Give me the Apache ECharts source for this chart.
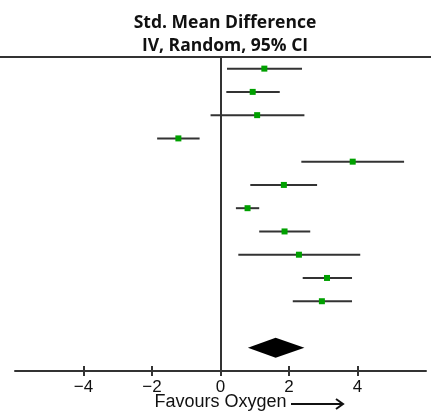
<!DOCTYPE html>
<html>
<head>
<meta charset="utf-8">
<script src="https://cdn.jsdelivr.net/npm/echarts@6/dist/echarts.min.js"></script>
<style>
  html, body { margin: 0; padding: 0; background: #fff; }
  #chart { width: 431px; height: 412px; }
</style>
</head>
<body>
<div id="chart"></div>
<script>
// forest plot, std. mean difference, IV random 95% CI
const rows = [1, 2, 3, 4, 5, 6, 7, 8, 9, 10, 11];
const smd = [1.28, 0.94, 1.07, -1.23, 3.86, 1.85, 0.79, 1.87, 2.29, 3.11, 2.96];
const lower = [0.19, 0.17, -0.29, -1.85, 2.36, 0.87, 0.45, 1.13, 0.52, 2.40, 2.11];
const upper = [2.38, 1.73, 2.45, -0.61, 5.36, 2.82, 1.13, 2.62, 4.08, 3.84, 3.84];
const pooledRow = 13;
const pooled = [1.61, 0.80, 2.45]; // estimate, lower, upper
const tickValues = [-4, -2, 0, 2, 4];

const chart = echarts.init(document.getElementById('chart'));
const ink = '#333';

const studyData = rows.map((r, i) => [smd[i], lower[i], upper[i], r]);

chart.setOption({
  animation: false,
  title: {
    text: 'Std. Mean Difference\nIV, Random, 95% CI',
    left: 220,
    top: 7,
    textAlign: 'center',
    textStyle: { fontFamily: 'Open Sans', fontWeight: 'bold', fontSize: 17.5, lineHeight: 23, color: '#111' },
  },
  grid: { left: 15, right: 5, top: 57, bottom: 41, outerBoundsMode: 'none' },
  xAxis: [{
    type: 'value',
    min: -6, max: 6, interval: 2,
    splitLine: { show: false },
    axisLine: { lineStyle: { color: ink, width: 2 } },
    axisTick: { customValues: tickValues, length: 5, lineStyle: { color: ink, width: 2 } },
    axisLabel: {
      customValues: tickValues,
      margin: 8,
      fontFamily: 'Liberation Sans', fontSize: 17, color: '#111',
      formatter: (v) => String(v).replace('-', '\u2212'),
    },
    name: 'Favours Oxygen',
    nameLocation: 'middle',
    nameGap: 22,
    nameMoveOverlap: false,
    nameTextStyle: { fontFamily: 'Liberation Sans', fontSize: 18, color: '#111' },
  }, {
    type: 'value',
    min: -6, max: 6, interval: 2,
    position: 'bottom',
    splitLine: { show: false },
    axisLine: { show: false },
    axisTick: { customValues: tickValues, inside: true, length: 5, lineStyle: { color: ink, width: 2 } },
    axisLabel: { show: false },
  }],
  yAxis: {
    type: 'value',
    inverse: true,
    min: 0.5, max: 14,
    splitLine: { show: false },
    axisTick: { show: false },
    axisLabel: { show: false },
    axisLine: { show: true, onZero: true, lineStyle: { color: ink, width: 2 } },
  },
  graphic: [
    { type: 'line', shape: { x1: 0, y1: 57, x2: 431, y2: 57 }, style: { stroke: ink, lineWidth: 2 } },
    { type: 'polyline', shape: { points: [[291, 404], [342, 404]] }, style: { stroke: '#111', lineWidth: 2 } },
    { type: 'polyline', shape: { points: [[336, 399], [343, 404], [336, 409]] }, style: { stroke: '#111', lineWidth: 2, fill: null } },
  ],
  series: [{
    type: 'custom',
    data: studyData,
    encode: { x: [0, 1, 2], y: 3 },
    renderItem: (params, api) => {
      const y = api.value(3);
      const lo = api.coord([api.value(1), y]);
      const hi = api.coord([api.value(2), y]);
      const mid = api.coord([api.value(0), y]);
      return {
        type: 'group',
        children: [
          { type: 'line', shape: { x1: lo[0], y1: lo[1], x2: hi[0], y2: hi[1] }, style: { stroke: ink, lineWidth: 2 } },
          { type: 'rect', shape: { x: mid[0] - 3, y: mid[1] - 3, width: 6, height: 6 }, style: { fill: '#00a000' } },
        ],
      };
    },
  }, {
    type: 'custom',
    data: [[pooled[0], pooled[1], pooled[2], pooledRow]],
    encode: { x: [0, 1, 2], y: 3 },
    renderItem: (params, api) => {
      const y = api.value(3);
      const lo = api.coord([api.value(1), y]);
      const hi = api.coord([api.value(2), y]);
      const top = api.coord([api.value(0), y - 0.43]);
      const bot = api.coord([api.value(0), y + 0.43]);
      return {
        type: 'polygon',
        shape: { points: [lo, top, hi, bot] },
        style: { fill: '#000' },
      };
    },
  }],
});
</script>
</body>
</html>
